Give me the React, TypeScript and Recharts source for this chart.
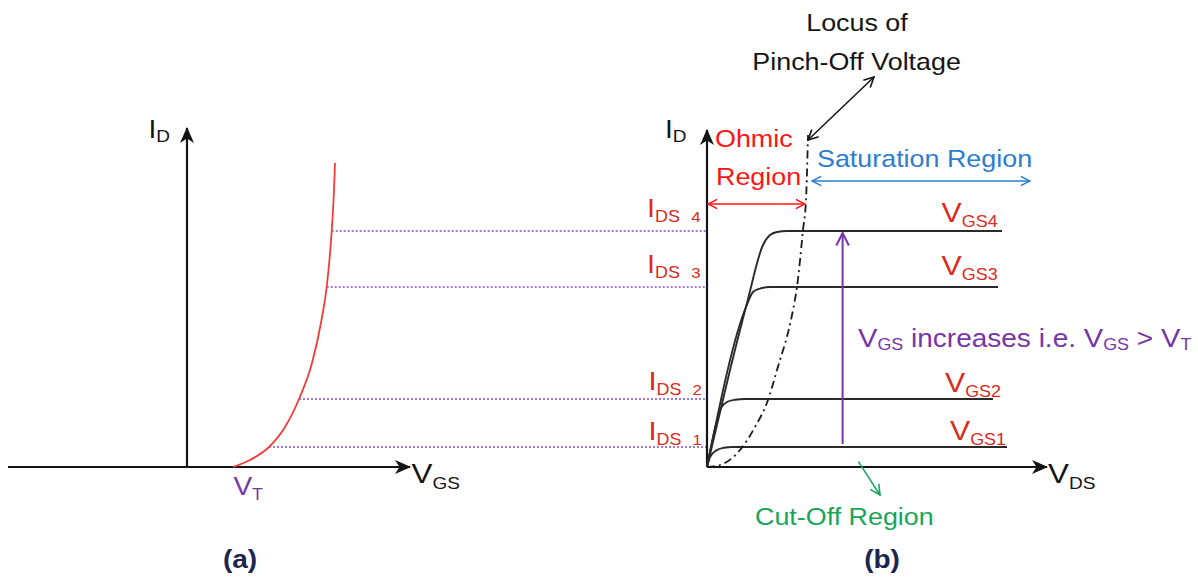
import React from 'react';
import { ComposedChart, Line, XAxis, YAxis, ReferenceLine, ReferenceDot } from 'recharts';

// drain current of the four saturation curves (mA) and their names
const idsLevels = [1.0, 3.4, 9.0, 11.8];
const levelNames = ['1', '2', '3', '4'];
// VGS at which each current level is reached on the transfer curve
const projFrom = [4.1, 5.6, 6.985, 7.235];

// (a) transfer characteristic, v = VGS
const transfer = [
  { v: 2.3, i: 0 }, { v: 3.15, i: 0.35 }, { v: 4.1, i: 1.0 }, { v: 4.9, i: 2.0 },
  { v: 5.6, i: 3.4 }, { v: 6.25, i: 5.2 }, { v: 6.725, i: 7.35 }, { v: 6.985, i: 9.0 },
  { v: 7.235, i: 11.8 }, { v: 7.35, i: 13.85 }, { v: 7.4, i: 15.2 },
];

// (b) output characteristics, v = VDS
const vgs1 = [{ v: 0, i: 0 }, { v: 0.15, i: 0.5 }, { v: 0.45, i: 0.82 }, { v: 0.85, i: 0.96 }, { v: 1.25, i: 1.0 }, { v: 15.0, i: 1.0 }];
const vgs2 = [{ v: 0, i: 0 }, { v: 0.73, i: 3.0 }, { v: 1.0, i: 3.25 }, { v: 1.4, i: 3.36 }, { v: 1.9, i: 3.4 }, { v: 14.3, i: 3.4 }];
const vgs3 = [{ v: 0, i: 0 }, { v: 1.95, i: 8.0 }, { v: 2.3, i: 8.75 }, { v: 2.65, i: 8.92 }, { v: 3.15, i: 9.0 }, { v: 14.55, i: 9.0 }];
const vgs4 = [{ v: 0, i: 0 }, { v: 1.15, i: 4.85 }, { v: 2.0, i: 8.2 }, { v: 2.8, i: 11.1 }, { v: 3.15, i: 11.6 }, { v: 3.5, i: 11.75 }, { v: 4.0, i: 11.8 }, { v: 14.75, i: 11.8 }];
const outputCurves = [vgs1, vgs2, vgs3, vgs4];

// locus of pinch-off voltage
const locus = [
  { v: 0, i: 0 }, { v: 0.65, i: 0.1 }, { v: 1.65, i: 0.85 }, { v: 2.4, i: 2.0 }, { v: 3.05, i: 3.35 },
  { v: 3.5, i: 4.85 }, { v: 4.3, i: 7.85 }, { v: 4.5, i: 9.0 }, { v: 4.8, i: 11.85 }, { v: 4.95, i: 13.35 }, { v: 5.05, i: 16.6 },
];

const FONT = '"Liberation Sans", Arial, sans-serif';
const SX = 1.12;
const INK = '#141414';
const RED_TXT = '#dc2a20';
const OHMIC = '#ff1414';
const BLUE = '#2a7dcf';
const PURPLE = '#7636a8';
const GREEN = '#16a65a';

type Seg = [string, number, number?, number?];

function Label({ cx, cy, segs, color, anchor = 'start', weight = 400 }: any) {
  let cur = 0;
  return (
    <g transform={`translate(${cx},${cy}) scale(${SX},1)`}>
      <text x={0} y={0} fill={color} textAnchor={anchor} fontFamily={FONT} fontWeight={weight}>
        {segs.map(([t, fs, shift = 0, dx = 0]: Seg, k: number) => {
          const dy = shift - cur;
          cur = shift;
          return (
            <tspan key={k} fontSize={fs} dy={dy} dx={dx}>
              {t}
            </tspan>
          );
        })}
      </text>
    </g>
  );
}

const tag = (key: string, axis: string, x: number, y: number, segs: Seg[], color: string, anchor = 'start', weight = 400) => (
  <ReferenceDot
    key={key}
    xAxisId={axis}
    x={x}
    y={y}
    r={0}
    ifOverflow="visible"
    shape={(p: any) => <Label cx={p.cx} cy={p.cy} segs={segs} color={color} anchor={anchor} weight={weight} />}
  />
);

const head = (id: string, color: string) => (
  <marker id={id} viewBox="0 0 16 14" refX="15" refY="7" markerWidth="16" markerHeight="14" markerUnits="userSpaceOnUse" orient="auto-start-reverse">
    <path d="M0,0 L16,7 L0,14 L4.5,7 z" fill={color} />
  </marker>
);

const chevron = (id: string, color: string, size: number) => (
  <marker id={id} viewBox="0 0 12 12" refX="11" refY="6" markerWidth={size} markerHeight={size} markerUnits="userSpaceOnUse" orient="auto-start-reverse">
    <path d="M1,1 L11,6 L1,11" fill="none" stroke={color} strokeWidth="1.6" />
  </marker>
);

export default function App() {
  return (
    <div style={{ position: 'absolute', left: 0, top: 0, width: 1198, height: 579, background: '#fff' }}>
      <ComposedChart width={1198} height={579} margin={{ top: 0, right: 0, bottom: 0, left: 0 }}>
        <defs>
          {head('axHead', INK)}
          {chevron('blkHead', INK, 12)}
          {chevron('redHead', OHMIC, 11)}
          {chevron('blueHead', BLUE, 11)}
          {chevron('purHead', PURPLE, 15)}
          {chevron('grnHead', GREEN, 12)}
        </defs>
        <XAxis xAxisId="gs" type="number" dataKey="v" domain={[-9.35, 50.55]} allowDataOverflow hide />
        <XAxis xAxisId="ds" type="number" dataKey="v" domain={[-35.35, 24.55]} allowDataOverflow hide />
        <YAxis type="number" dataKey="i" domain={[-5.6, 23.35]} allowDataOverflow hide />

        {/* dotted projections from (a) to (b) */}
        {idsLevels.map((lv, k) => (
          <ReferenceLine
            key={`p${k}`}
            xAxisId="gs"
            segment={[{ x: projFrom[k], y: lv }, { x: 26.0, y: lv }]}
            stroke="#8150c8"
            strokeWidth={1.5}
            strokeDasharray="2 2"
          />
        ))}

        {/* axes of (a) */}
        <ReferenceLine xAxisId="gs" segment={[{ x: -8.95, y: 0 }, { x: 11.15, y: 0 }]} stroke={INK} strokeWidth={2.2} markerEnd="url(#axHead)" />
        <ReferenceLine xAxisId="gs" segment={[{ x: 0, y: 0 }, { x: 0, y: 16.95 }]} stroke={INK} strokeWidth={2.2} markerEnd="url(#axHead)" />

        {/* axes of (b) */}
        <ReferenceLine xAxisId="ds" segment={[{ x: 0, y: 0 }, { x: 17.0, y: 0 }]} stroke={INK} strokeWidth={2.2} markerEnd="url(#axHead)" />
        <ReferenceLine xAxisId="ds" segment={[{ x: 0, y: 0 }, { x: 0, y: 16.85 }]} stroke={INK} strokeWidth={2.2} markerEnd="url(#axHead)" />

        <Line xAxisId="gs" data={transfer} dataKey="i" type="monotone" stroke="#f43c3c" strokeWidth={1.8} dot={false} activeDot={false} isAnimationActive={false} />

        {outputCurves.map((c, k) => (
          <Line key={`c${k}`} xAxisId="ds" data={c} dataKey="i" type="monotone" stroke="#2a2a2a" strokeWidth={1.9} dot={false} activeDot={false} isAnimationActive={false} />
        ))}
        <Line xAxisId="ds" data={locus} dataKey="i" type="monotone" stroke="#1a1a1a" strokeWidth={1.8} strokeDasharray="8 4 2 4" dot={false} activeDot={false} isAnimationActive={false} />

        {/* region arrows */}
        <ReferenceLine xAxisId="ds" segment={[{ x: 0.05, y: 13.15 }, { x: 4.9, y: 13.15 }]} stroke={OHMIC} strokeWidth={1.5} markerStart="url(#redHead)" markerEnd="url(#redHead)" />
        <ReferenceLine xAxisId="ds" segment={[{ x: 5.25, y: 14.3 }, { x: 16.15, y: 14.3 }]} stroke={BLUE} strokeWidth={1.5} markerStart="url(#blueHead)" markerEnd="url(#blueHead)" />
        <ReferenceLine xAxisId="ds" segment={[{ x: 5.05, y: 16.35 }, { x: 8.35, y: 19.5 }]} stroke={INK} strokeWidth={1.5} markerStart="url(#blkHead)" markerEnd="url(#blkHead)" />
        <ReferenceLine xAxisId="ds" segment={[{ x: 6.78, y: 1.15 }, { x: 6.78, y: 11.7 }]} stroke={PURPLE} strokeWidth={2} markerEnd="url(#purHead)" />
        <ReferenceLine xAxisId="ds" segment={[{ x: 7.57, y: 0.27 }, { x: 8.65, y: -1.4 }]} stroke={GREEN} strokeWidth={1.5} markerEnd="url(#grnHead)" />

        {/* texts of (a) */}
        {tag('idA', 'gs', -1.93, 16.45, [['I', 25], ['D', 17, 4]], INK)}
        {tag('vgsA', 'gs', 11.23, -0.8, [['V', 28], ['GS', 17, 6]], INK)}
        {tag('vt', 'gs', 2.32, -1.4, [['V', 25], ['T', 16, 5]], PURPLE)}
        {tag('capA', 'gs', 2.65, -5.05, [['(a)', 25]], '#1a2550', 'middle', 700)}

        {/* texts of (b) */}
        {tag('idB', 'ds', -2.1, 16.45, [['I', 25], ['D', 17, 4]], INK)}
        {tag('vds', 'ds', 17.05, -0.8, [['V', 28], ['DS', 17, 6]], INK)}
        {tag('loc1', 'ds', 7.5, 21.8, [['Locus of', 24]], INK, 'middle')}
        {tag('loc2', 'ds', 7.48, 19.85, [['Pinch-Off Voltage', 24]], INK, 'middle')}
        {tag('ohm1', 'ds', 0.4, 16.0, [['Ohmic', 24]], OHMIC)}
        {tag('ohm2', 'ds', 0.45, 14.1, [['Region', 24]], OHMIC)}
        {tag('sat', 'ds', 5.5, 15.0, [['Saturation Region', 24]], BLUE)}
        {tag('cut', 'ds', 2.4, -2.9, [['Cut-Off Region', 24]], GREEN)}
        {tag('inc', 'ds', 7.55, 6.02, [['V', 26], ['GS', 16, 3], [' increases i.e. ', 25], ['V', 26], ['GS', 16, 3], [' > ', 25], ['V', 26], ['T', 16, 3]], PURPLE)}
        {tag('capB', 'ds', 8.75, -5.05, [['(b)', 25]], '#1a2550', 'middle', 700)}

        {tag('g4', 'ds', 11.73, 12.25, [['V', 27], ['GS4', 16, 5]], RED_TXT)}
        {tag('g3', 'ds', 11.73, 9.6, [['V', 27], ['GS3', 16, 5]], RED_TXT)}
        {tag('g2', 'ds', 11.9, 3.75, [['V', 27], ['GS2', 16, 5]], RED_TXT)}
        {tag('g1', 'ds', 12.15, 1.35, [['V', 27], ['GS1', 16, 5]], RED_TXT)}

        {tag('i4', 'ds', -3.0, 12.48, [['I', 26], ['DS', 16, 5], [levelNames[3], 15, 5, 10]], RED_TXT)}
        {tag('i3', 'ds', -3.0, 9.69, [['I', 26], ['DS', 16, 5], [levelNames[2], 15, 5, 10]], RED_TXT)}
        {tag('i2', 'ds', -2.93, 3.85, [['I', 26], ['DS', 16, 5], [levelNames[1], 15, 5, 10]], RED_TXT)}
        {tag('i1', 'ds', -2.93, 1.35, [['I', 26], ['DS', 16, 5], [levelNames[0], 15, 5, 10]], RED_TXT)}
      </ComposedChart>
    </div>
  );
}
